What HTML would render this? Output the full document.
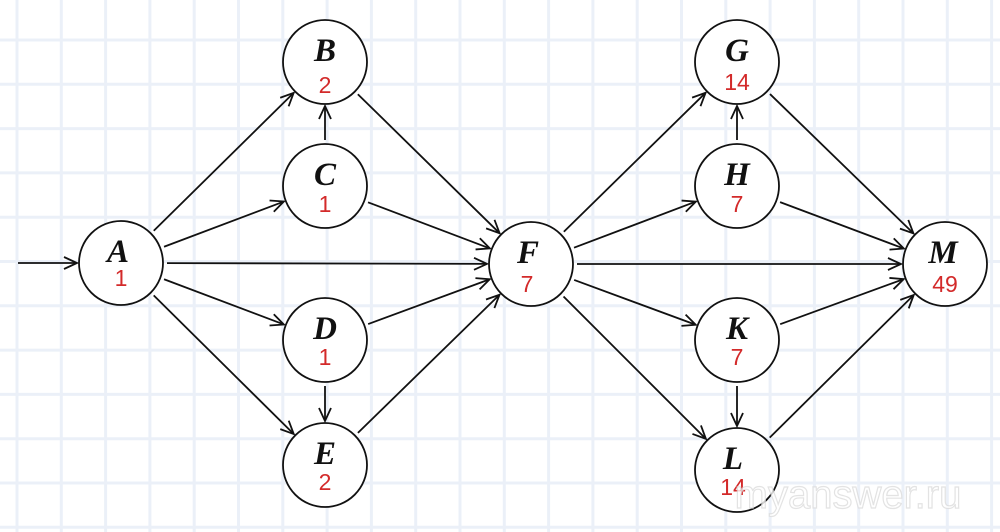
<!DOCTYPE html>
<html><head><meta charset="utf-8"><style>
html,body{margin:0;padding:0;background:#fff;}
svg{display:block;}
.l{font-family:"Liberation Serif",serif;font-style:italic;font-weight:bold;font-size:33px;fill:#111;text-anchor:middle;}
.n{font-family:"Liberation Sans",sans-serif;font-size:23px;fill:#d32a2a;text-anchor:middle;}
</style></head><body>
<svg id="s" width="1000" height="532" viewBox="0 0 1000 532" xmlns="http://www.w3.org/2000/svg">
<g id="grid" stroke="#ebf0f8" stroke-width="3"></g>
<g id="edges" stroke="#111" stroke-width="1.8" fill="none"></g>
<g stroke="#111" stroke-width="1.8" fill="#fff">
<circle cx="121" cy="263" r="42"/><circle cx="325" cy="62" r="42"/><circle cx="325" cy="186" r="42"/>
<circle cx="325" cy="340" r="42"/><circle cx="325" cy="465" r="42"/><circle cx="531" cy="264" r="42"/>
<circle cx="737" cy="62" r="42"/><circle cx="737" cy="186" r="42"/><circle cx="737" cy="340" r="42"/>
<circle cx="737" cy="470" r="42"/><circle cx="945" cy="264" r="42"/>
</g>
<text class="l" x="118" y="262">A</text><text class="n" x="121" y="286">1</text>
<text class="l" x="325" y="61">B</text><text class="n" x="325" y="93">2</text>
<text class="l" x="325" y="185">C</text><text class="n" x="325" y="212">1</text>
<text class="l" x="325" y="339">D</text><text class="n" x="325" y="365">1</text>
<text class="l" x="325" y="464">E</text><text class="n" x="325" y="490">2</text>
<text class="l" x="528" y="263">F</text><text class="n" x="527" y="292">7</text>
<text class="l" x="737" y="61">G</text><text class="n" x="737" y="90">14</text>
<text class="l" x="737" y="185">H</text><text class="n" x="737" y="212">7</text>
<text class="l" x="737" y="339">K</text><text class="n" x="737" y="365">7</text>
<text class="l" x="733" y="469">L</text><text class="n" x="733" y="495">14</text>
<text class="l" x="943" y="263">M</text><text class="n" x="945" y="292">49</text>
<text x="848" y="508" font-family="Liberation Sans,sans-serif" font-size="40" fill="#fff" stroke="#ddd" stroke-width="1.2" text-anchor="middle" opacity="0.8">myanswer.ru</text>
</svg>
<script>
var g=document.getElementById('grid'),h='';
for(var x=17;x<1000;x+=44.3)h+='<line x1="'+x+'" y1="0" x2="'+x+'" y2="532"/>';
for(var y=40;y<532;y+=44.3)h+='<line x1="0" y1="'+y+'" x2="1000" y2="'+y+'"/>';
g.innerHTML=h;
var N={A:[121,263],B:[325,62],C:[325,186],D:[325,340],E:[325,465],F:[531,264],G:[737,62],H:[737,186],K:[737,340],L:[737,470],M:[945,264]};
var E=[['A','B'],['A','C'],['A','F'],['A','D'],['A','E'],['C','B'],['D','E'],['B','F'],['C','F'],['D','F'],['E','F'],
['F','G'],['F','H'],['F','M'],['F','K'],['F','L'],['H','G'],['K','L'],['G','M'],['H','M'],['K','M'],['L','M']];
var s='';
function arrow(x,y,ux,uy){var L=13,W=6;var bx=x-ux*L,by=y-uy*L;
return '<path d="M'+(bx-uy*W)+' '+(by+ux*W)+' L'+x+' '+y+' L'+(bx+uy*W)+' '+(by-ux*W)+'"/>';}
E.forEach(function(e){var a=N[e[0]],b=N[e[1]];var dx=b[0]-a[0],dy=b[1]-a[1],d=Math.hypot(dx,dy),ux=dx/d,uy=dy/d;
var x1=a[0]+ux*46,y1=a[1]+uy*46,x2=b[0]-ux*44,y2=b[1]-uy*44;
s+='<line x1="'+x1+'" y1="'+y1+'" x2="'+x2+'" y2="'+y2+'"/>'+arrow(x2,y2,ux,uy);});
s+='<line x1="18" y1="263" x2="77" y2="263"/>'+arrow(77,263,1,0);
document.getElementById('edges').innerHTML=s;
</script>
</body></html>
